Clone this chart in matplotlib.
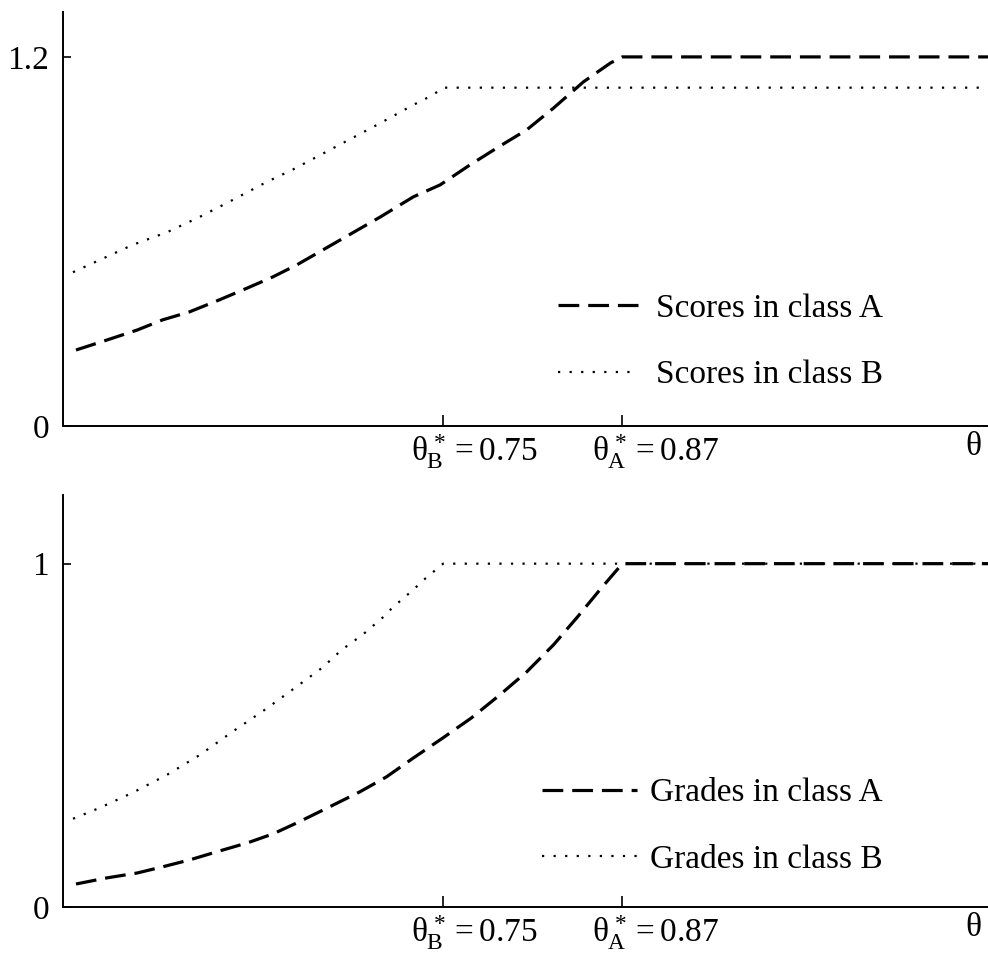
import matplotlib
matplotlib.use("Agg")
import matplotlib.pyplot as plt
from matplotlib.transforms import ScaledTranslation
import numpy as np

plt.rcParams['font.family'] = ['Liberation Serif', 'DejaVu Serif']
plt.rcParams['mathtext.fontset'] = 'custom'
plt.rcParams['mathtext.rm'] = 'Liberation Serif'
plt.rcParams['mathtext.it'] = 'Liberation Serif'
plt.rcParams['mathtext.bf'] = 'Liberation Serif:bold'

# values
theta_end = 1.115

scoreA_t = [0.504, 0.525, 0.545, 0.562, 0.580, 0.600, 0.619, 0.636, 0.652, 0.708, 0.730,
            0.748, 0.768, 0.787, 0.806, 0.824, 0.844, 0.862, 0.870, theta_end]
scoreA_v = [0.247, 0.280, 0.312, 0.345, 0.371, 0.410, 0.449, 0.485, 0.524, 0.680, 0.745,
            0.784, 0.849, 0.907, 0.963, 1.034, 1.119, 1.180, 1.200, 1.200]

scoreB_t = [0.502, 0.520, 0.542, 0.565, 0.587, 0.609, 0.632, 0.649, 0.708, 0.730, 0.743, 0.750, theta_end]
scoreB_v = [0.500, 0.540, 0.589, 0.630, 0.680, 0.735, 0.794, 0.833, 0.985, 1.044, 1.076, 1.100, 1.100]

gradeA_t = [0.504, 0.525, 0.545, 0.562, 0.580, 0.600, 0.619, 0.636, 0.652, 0.674, 0.694, 0.712,
            0.730, 0.750, 0.769, 0.788, 0.806, 0.824, 0.840, 0.855, 0.870, theta_end]
gradeA_v = [0.067, 0.085, 0.099, 0.117, 0.137, 0.163, 0.187, 0.213, 0.245, 0.292, 0.335, 0.379,
            0.434, 0.493, 0.551, 0.618, 0.685, 0.764, 0.845, 0.924, 1.000, 1.000]

gradeB_t = [0.502, 0.520, 0.542, 0.565, 0.587, 0.609, 0.632, 0.649, 0.669, 0.682, 0.696,
            0.710, 0.716, 0.730, 0.737, 0.750, theta_end]
gradeB_v = [0.257, 0.289, 0.333, 0.385, 0.443, 0.511, 0.579, 0.633, 0.697, 0.749, 0.793,
            0.845, 0.872, 0.924, 0.953, 1.000, 1.000]

xticks = [0.75, 0.87, 1.105]
xticklabels = [r'$\theta^*_B = 0.75$', r'$\theta^*_A = 0.87$', r'$\theta$']
label_shift = [-32, -30, 0]   # px, labels sit mostly right of their tick

dash_a = (0, (6.5, 2.8))
dot_b = (0, (1, 4.2))


def setup(ax, ymax, yticks, ylabels):
    ax.set_xlim(0.4953, theta_end)
    ax.set_ylim(0, ymax)
    for s in ['top', 'right']:
        ax.spines[s].set_visible(False)
    for s in ['left', 'bottom']:
        ax.spines[s].set_linewidth(1.4)
    ax.set_yticks(yticks)
    ax.set_yticklabels(ylabels, fontsize=24)
    ax.set_xticks(xticks)
    ax.set_xticklabels(xticklabels, fontsize=24)
    ax.tick_params(axis='y', direction='in', length=6, width=1.2, pad=10)
    ax.tick_params(axis='x', direction='in', length=8, width=1.2, pad=4)
    fig = ax.figure
    for lab, dx in zip(ax.get_xticklabels(), label_shift):
        if dx != 0:
            lab.set_ha('left')
            lab.set_transform(lab.get_transform() + ScaledTranslation(dx / 100, 0, fig.dpi_scale_trans))
    ax.get_xaxis().get_major_ticks()[-1].tick1line.set_visible(False)


fig = plt.figure(figsize=(9.88, 9.58), dpi=100)
ax1 = fig.add_axes([63 / 988, 1 - 426 / 958, 1 - 63 / 988, 414 / 958])
ax2 = fig.add_axes([63 / 988, 1 - 907 / 958, 1 - 63 / 988, 412 / 958])

ax1.plot(scoreA_t, scoreA_v, color='k', lw=2.3, linestyle=dash_a, label='Scores in class A')
ax1.plot(scoreB_t, scoreB_v, color='k', lw=1.6, linestyle=dot_b, label='Scores in class B')
setup(ax1, 1.346, [0, 1.2], ['0', '1.2'])
ax1.legend(loc='center left', bbox_to_anchor=(0.535, 0.203), frameon=False, fontsize=24,
           handlelength=2.4, handletextpad=0.55, labelspacing=1.08, borderpad=0, borderaxespad=0)

ax2.plot(gradeA_t, gradeA_v, color='k', lw=2.3, linestyle=dash_a, label='Grades in class A')
ax2.plot(gradeB_t, gradeB_v, color='k', lw=1.6, linestyle=dot_b, label='Grades in class B')
setup(ax2, 1.2, [0, 1], ['0', '1'])
ax2.legend(loc='center left', bbox_to_anchor=(0.518, 0.196), frameon=False, fontsize=24,
           handlelength=2.85, handletextpad=0.4, labelspacing=1.08, borderpad=0, borderaxespad=0)

fig.savefig('out.png', dpi=100)
